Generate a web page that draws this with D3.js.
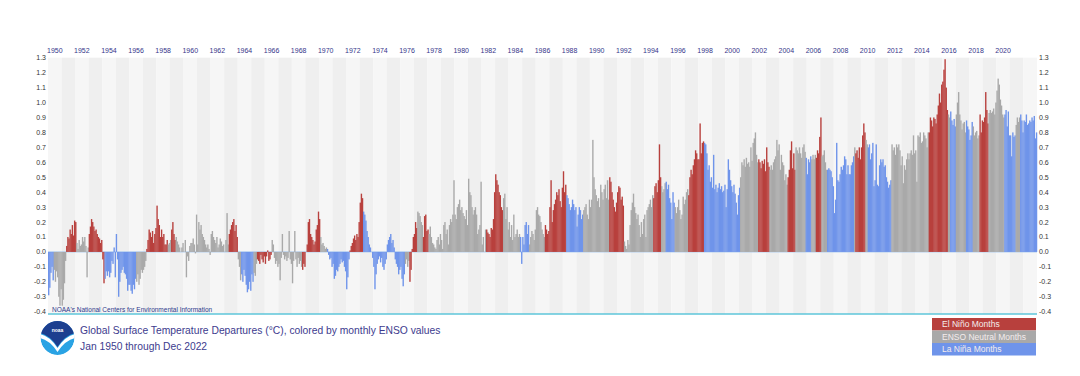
<!DOCTYPE html>
<html>
<head>
<meta charset="utf-8">
<script src="https://cdn.jsdelivr.net/npm/d3@7"></script>
<style>
  body { margin: 0; background: #fff; }
  text { font-family: "Liberation Sans", Arial, sans-serif; }
</style>
</head>
<body>
<div id="chart"></div>
<script>
// first year of the monthly series
var firstYear = 1950;

// top axis labels (every 2nd year)
var yearLabels = ["1950","1952","1954","1956","1958","1960","1962","1964","1966","1968","1970",
  "1972","1974","1976","1978","1980","1982","1984","1986","1988","1990","1992","1994","1996",
  "1998","2000","2002","2004","2006","2008","2010","2012","2014","2016","2018","2020"];

// left / right axis ticks
var yTicks = [-0.4,-0.3,-0.2,-0.1,0.0,0.1,0.2,0.3,0.4,0.5,0.6,0.7,0.8,0.9,1.0,1.1,1.2,1.3];

var legendLabels = ["El Niño Months", "ENSO Neutral Months", "La Niña Months"];
var legendKeys = ["E", "N", "L"];

// monthly anomalies, one row per year (Jan..Dec)
var anomalies = [
  [-0.29,-0.24,-0.14,-0.10,-0.19,-0.12,-0.20,-0.13,-0.17,-0.30,-0.36,-0.25], // 1950
  [-0.36,-0.32,-0.21,-0.06,0.04,0.10,0.09,0.15,0.12,0.18,0.11,0.21],
  [0.20,0.06,0.02,0.08,0.04,0.05,0.10,0.07,0.10,0.04,-0.17,0.03],
  [0.12,0.17,0.22,0.20,0.17,0.14,0.15,0.12,0.10,0.09,0.06,0.08],
  [-0.05,-0.21,-0.18,-0.13,-0.16,-0.13,-0.17,-0.14,-0.06,-0.08,0.03,-0.17],
  [0.12,-0.05,-0.30,-0.20,-0.14,-0.12,-0.10,-0.14,-0.15,-0.18,-0.26,-0.22],
  [-0.22,-0.26,-0.28,-0.22,-0.25,-0.18,-0.20,-0.15,-0.22,-0.18,-0.12,-0.14],
  [-0.12,-0.10,-0.06,0.02,0.08,0.15,0.13,0.10,0.14,0.06,0.12,0.16],
  [0.31,0.22,0.18,0.10,0.15,0.10,0.12,0.05,0.05,0.08,0.05,0.06],
  [0.08,0.15,0.20,0.12,0.08,0.10,0.07,0.05,0.03,0.00,0.03,0.06],
  [0.00,0.08,-0.17,-0.03,-0.06,0.04,0.06,0.06,0.09,0.05,-0.01,0.25], // 1960
  [0.05,0.20,0.15,0.18,0.12,0.10,0.08,0.05,0.03,0.05,0.02,-0.02],
  [0.12,0.14,0.10,0.08,0.06,0.10,0.03,0.05,0.09,0.07,0.04,0.05],
  [0.00,0.08,0.26,0.05,0.12,0.15,0.18,0.20,0.22,0.14,0.18,0.10],
  [-0.05,-0.10,-0.19,-0.15,-0.20,-0.12,-0.16,-0.22,-0.27,-0.25,-0.20,-0.26],
  [-0.15,-0.20,-0.14,-0.16,-0.08,-0.05,-0.06,-0.08,-0.02,-0.05,-0.07,-0.03],
  [-0.08,-0.03,0.01,-0.06,-0.05,-0.02,0.08,0.05,-0.04,-0.08,-0.06,-0.10],
  [-0.08,-0.19,-0.04,0.12,-0.02,-0.05,-0.03,-0.06,-0.04,0.14,-0.05,-0.08],
  [-0.21,-0.06,0.14,-0.05,-0.10,-0.04,-0.08,-0.06,-0.10,-0.12,-0.08,-0.10],
  [0.00,0.05,0.20,0.22,0.12,0.10,0.08,0.05,0.07,0.15,0.18,0.27],
  [0.22,0.10,0.05,0.06,0.04,0.02,0.03,0.02,-0.02,-0.05,-0.04,-0.10], // 1970
  [-0.08,-0.18,-0.16,-0.12,-0.13,-0.10,-0.08,-0.05,-0.07,-0.06,-0.10,-0.13],
  [-0.25,-0.17,-0.05,0.01,0.04,0.06,0.09,0.11,0.08,0.12,0.10,0.20],
  [0.33,0.39,0.36,0.27,0.25,0.21,0.14,0.10,0.05,0.03,0.00,-0.04],
  [-0.10,-0.25,-0.15,-0.08,-0.05,-0.03,-0.07,-0.04,-0.10,-0.12,-0.08,-0.05],
  [0.05,0.08,0.10,0.12,0.06,0.08,0.03,-0.05,-0.08,-0.10,-0.15,-0.12],
  [-0.10,-0.18,-0.23,-0.15,-0.08,-0.05,-0.10,-0.06,-0.20,-0.12,0.02,0.10],
  [0.12,0.20,0.16,0.27,0.26,0.24,0.20,0.18,0.10,0.24,0.25,0.14],
  [0.15,0.12,0.17,0.10,0.06,0.05,0.03,0.02,0.08,0.10,0.05,0.12],
  [0.08,0.02,0.18,0.20,0.12,0.15,0.05,0.18,0.22,0.20,0.25,0.48],
  [0.25,0.22,0.30,0.32,0.35,0.28,0.30,0.26,0.24,0.22,0.28,0.18], // 1980
  [0.49,0.40,0.38,0.30,0.25,0.28,0.30,0.25,0.12,0.15,0.18,0.47],
  [0.05,0.10,0.00,0.15,0.15,0.13,0.12,0.10,0.16,0.15,0.22,0.40],
  [0.52,0.48,0.45,0.40,0.38,0.30,0.28,0.36,0.39,0.22,0.30,0.15],
  [0.20,0.10,0.18,0.08,0.25,0.10,0.12,0.15,0.10,0.12,0.10,-0.08],
  [0.10,0.05,0.18,0.20,0.12,0.18,0.05,0.10,0.14,0.12,0.08,0.15],
  [0.28,0.30,0.25,0.24,0.20,0.15,0.12,0.10,0.18,0.15,0.12,0.14],
  [0.30,0.48,0.20,0.28,0.32,0.35,0.40,0.38,0.42,0.34,0.30,0.43],
  [0.54,0.40,0.45,0.38,0.36,0.32,0.28,0.30,0.35,0.32,0.28,0.30],
  [0.17,0.25,0.30,0.28,0.22,0.25,0.28,0.30,0.32,0.25,0.22,0.35],
  [0.30,0.35,0.75,0.50,0.42,0.38,0.34,0.36,0.30,0.45,0.40,0.35], // 1990
  [0.42,0.45,0.36,0.48,0.35,0.50,0.47,0.40,0.35,0.30,0.27,0.33],
  [0.40,0.44,0.43,0.35,0.37,0.31,0.07,0.04,0.02,0.08,0.05,0.18],
  [0.28,0.33,0.39,0.30,0.26,0.22,0.25,0.18,0.10,0.20,0.12,0.22],
  [0.25,0.10,0.28,0.30,0.32,0.35,0.30,0.38,0.36,0.44,0.46,0.40],
  [0.48,0.72,0.50,0.44,0.40,0.42,0.46,0.47,0.42,0.45,0.36,0.33],
  [0.22,0.40,0.33,0.30,0.26,0.30,0.35,0.28,0.22,0.25,0.37,0.32],
  [0.35,0.40,0.42,0.38,0.50,0.55,0.52,0.58,0.62,0.68,0.66,0.62],
  [0.62,0.86,0.66,0.73,0.74,0.73,0.72,0.66,0.55,0.58,0.47,0.50],
  [0.43,0.65,0.42,0.45,0.40,0.43,0.46,0.42,0.44,0.40,0.41,0.45],
  [0.30,0.42,0.62,0.55,0.48,0.44,0.40,0.45,0.39,0.33,0.25,0.38], // 2000
  [0.43,0.50,0.60,0.58,0.62,0.57,0.63,0.59,0.60,0.57,0.70,0.61],
  [0.73,0.76,0.80,0.65,0.60,0.62,0.60,0.56,0.61,0.59,0.62,0.54],
  [0.70,0.60,0.57,0.55,0.58,0.55,0.60,0.62,0.64,0.75,0.68,0.72],
  [0.55,0.65,0.60,0.58,0.48,0.52,0.45,0.50,0.55,0.68,0.74,0.56],
  [0.66,0.55,0.70,0.68,0.66,0.70,0.66,0.63,0.70,0.72,0.67,0.63],
  [0.52,0.62,0.60,0.64,0.62,0.65,0.62,0.65,0.63,0.68,0.66,0.77],
  [0.90,0.64,0.65,0.68,0.60,0.55,0.55,0.56,0.55,0.54,0.50,0.44],
  [0.26,0.35,0.73,0.48,0.47,0.52,0.57,0.55,0.58,0.64,0.62,0.52],
  [0.58,0.52,0.52,0.58,0.60,0.64,0.70,0.66,0.68,0.63,0.70,0.62],
  [0.70,0.78,0.86,0.80,0.75,0.72,0.70,0.72,0.62,0.66,0.73,0.44], // 2010
  [0.48,0.72,0.45,0.44,0.58,0.62,0.60,0.62,0.57,0.58,0.50,0.47],
  [0.43,0.45,0.48,0.72,0.68,0.70,0.65,0.72,0.70,0.72,0.68,0.58],
  [0.64,0.46,0.58,0.55,0.62,0.66,0.62,0.66,0.68,0.65,0.78,0.66],
  [0.68,0.47,0.78,0.77,0.80,0.73,0.74,0.80,0.78,0.76,0.70,0.80],
  [0.80,0.90,0.88,0.84,0.90,0.89,0.86,0.92,0.98,1.06,1.00,1.12],
  [1.14,1.22,1.29,1.10,0.95,0.92,0.90,0.94,0.88,0.85,0.89,0.84],
  [0.92,1.00,1.07,0.92,0.88,0.82,0.86,0.87,0.80,0.88,0.84,0.82],
  [0.75,0.78,0.87,0.84,0.78,0.80,0.81,0.76,0.78,0.92,0.80,0.88],
  [0.87,0.90,1.07,0.95,0.86,0.93,0.95,0.93,0.94,0.96,0.92,1.00],
  [1.08,1.16,1.12,1.02,0.98,0.92,0.90,0.92,0.95,0.84,0.94,0.78], // 2020
  [0.78,0.64,0.80,0.77,0.78,0.85,0.90,0.87,0.90,0.92,0.88,0.80],
  [0.88,0.87,0.92,0.85,0.86,0.88,0.87,0.90,0.88,0.91,0.76,0.80]
];

// ENSO state per month: E = El Nino, N = neutral, L = La Nina
var enso = [
  "LLLLLNNNNNNN","NNNNEEEEEEEE","ENNNNNNNNNNN","EEEEEEEEEEEE","EELLLLLLLLLL", // 1950-54
  "LLLLLLLLLLLL","LLLLLLNNNNNN","NNNEEEEEEEEE","EEEEEEEEEENN","NEEEENNNNNNN", // 1955-59
  "NNNNNNNNNNNN","NNNNNNNNNNNN","NNNNNNNNNNNN","NNNNEEEEEEEE","NNNLLLLLLLLL", // 1960-64
  "LLNNNEEEEEEE","EEEEEENNNNNN","NNNNNNNNNNNN","NNNNNNNNNEEE","EEEEEEEEEEEE", // 1965-69
  "ENNNNNNLLLLL","LLLLLLLLLLLL","LLLEEEEEEEEE","EEELLLLLLLLL","LLLLLLLLLLLL", // 1970-74
  "LLLLLLLLLLLL","LLLLNNNNEEEE","EEENNNNNEEEE","ENNNNNNNNNNN","NNNNNNNNNNNN", // 1975-79
  "NNNNNNNNNNNN","NNNNNNNNNNNN","NNNNEEEEEEEE","EEEEEEENNNNN","NNNNNNNNNNLL", // 1980-84
  "LLLLLLNNNNNN","NNNNNNNNEEEE","EEEEEEEEEEEE","EEELLLLLLLLL","LLLLLLNNNNNN", // 1985-89
  "NNNNNNNNNNNN","NNNNNEEEEEEE","EEEEEENNNNNN","NNNNNNNNNNNN","NNNNNNNNEEEE", // 1990-94
  "EEENNNNLLLLL","LLLNNNNNNNNN","NNNEEEEEEEEE","EEEEELLLLLLL","LLLLLLLLLLLL", // 1995-99
  "LLLLLLLLLLLL","LNNNNNNNNNNN","NNNNNEEEEEEE","EEENNNNNNNNN","NNNNNNNEEEEE", // 2000-04
  "EENNNNNNNNNL","LLLLNNNNEEEE","ENNNNNLLLLLL","LLLLLLLLLLLL","LLLLLLNEEEEE", // 2005-09
  "EEEENNLLLLLL","LLLLLLLLLLLL","LLLNNNNNNNNN","NNNNNNNNNNNN","NNNNNNNNNNNN", // 2010-14
  "EEEEEEEEEEEE","EEEEENNLLLLL","NNNNNNNNNLLL","LLLNNNNNNEEE","EEEEENNNNNNN", // 2015-19
  "NNNNNNNLLLLL","LLLLLNNNNLLL","LLLLLLLLLLLL"                                  // 2020-22
];

var colors = { E: "#b8403d", N: "#a9a9a9", L: "#6f94ea" };

var W = 1080, H = 376;
var left = 48, right = 1037;

var years = d3.range(firstYear, firstYear + anomalies.length);
var months = [];
anomalies.forEach(function (row, yi) {
  row.forEach(function (v, mi) {
    months.push({ i: yi * 12 + mi, v: v, c: enso[yi].charAt(mi) });
  });
});

var x = d3.scaleBand().domain(d3.range(months.length)).range([left, right]).padding(0);
var xYear = d3.scaleBand().domain(years).range([left, right]).padding(0);
var y = d3.scaleLinear().domain([-0.4, 1.3]).range([311.7, 57.7]);

var svg = d3.select("#chart").append("svg").attr("width", W).attr("height", H);
svg.append("rect").attr("width", W).attr("height", H).attr("fill", "#fff");

// year stripes in the background
svg.append("g").selectAll("rect").data(years).enter().append("rect")
  .attr("x", function (d) { return xYear(d); })
  .attr("width", xYear.bandwidth())
  .attr("y", y(1.3))
  .attr("height", 314 - y(1.3))
  .attr("fill", function (d, i) { return i % 2 ? "#efefef" : "#f6f6f6"; });

// zero line
svg.append("line").attr("x1", left).attr("x2", right).attr("y1", y(0)).attr("y2", y(0))
  .attr("stroke", "#a9c9ef").attr("stroke-width", 1);

// monthly bars
svg.append("g").selectAll("rect").data(months).enter().append("rect")
  .attr("x", function (d) { return x(d.i); })
  .attr("width", x.bandwidth() + 0.25)
  .attr("y", function (d) { return y(Math.max(0, d.v)); })
  .attr("height", function (d) { return Math.abs(y(d.v) - y(0)); })
  .attr("fill", function (d) { return colors[d.c]; });

// bottom line
svg.append("line").attr("x1", left).attr("x2", right).attr("y1", 314).attr("y2", 314)
  .attr("stroke", "#5ec6da").attr("stroke-width", 1.5);

// left and right value labels
function fmt(d) { return d.toFixed(1); }
svg.append("g").selectAll("text").data(yTicks).enter().append("text")
  .attr("x", left - 2).attr("y", y).attr("dy", "0.35em")
  .attr("text-anchor", "end").attr("font-size", 7).attr("fill", "#333")
  .text(fmt);
svg.append("g").selectAll("text").data(yTicks).enter().append("text")
  .attr("x", right + 2).attr("y", y).attr("dy", "0.35em")
  .attr("text-anchor", "start").attr("font-size", 7).attr("fill", "#333")
  .text(fmt);

// year labels along the top
svg.append("g").selectAll("text").data(yearLabels).enter().append("text")
  .attr("x", function (d) { return xYear(+d) + xYear.bandwidth() / 2; })
  .attr("y", 52.5)
  .attr("text-anchor", "middle").attr("font-size", 7).attr("fill", "#36368a")
  .text(function (d) { return d; });

// source credit
svg.append("text").attr("x", 52).attr("y", 311.5).attr("font-size", 6.5).attr("fill", "#2f3b8c")
  .text("NOAA's National Centers for Environmental Information");

// title block
svg.append("text").attr("x", 80).attr("y", 333.5).attr("font-size", 10.3).attr("fill", "#3d3b8e")
  .text("Global Surface Temperature Departures (°C), colored by monthly ENSO values");
svg.append("text").attr("x", 80).attr("y", 349.5).attr("font-size", 10.3).attr("fill", "#3d3b8e")
  .text("Jan 1950 through Dec 2022");

// logo
var logo = svg.append("g").attr("transform", "translate(57.5,338)");
logo.append("clipPath").attr("id", "logoClip").append("circle").attr("r", 17);
var lg = logo.append("g").attr("clip-path", "url(#logoClip)");
lg.append("circle").attr("r", 17).attr("fill", "#2aa3e4");
lg.append("path").attr("d", "M-18,-18 L18,-18 L18,-5 Q8,-3 0,9 Q-8,-3 -18,-5 Z").attr("fill", "#1c3f8f");
lg.append("path").attr("d", "M-18,-4 Q-8,-2 0,10 Q8,-2 18,-4 L18,0 Q8,2 0,14 Q-8,2 -18,0 Z").attr("fill", "#fff");
logo.append("text").attr("y", -6).attr("text-anchor", "middle").attr("font-size", 5)
  .attr("font-weight", "bold").attr("fill", "#fff").text("noaa");

// legend
var lgd = svg.append("g").attr("transform", "translate(932,318)");
lgd.selectAll("rect").data(legendKeys).enter().append("rect")
  .attr("x", 0).attr("y", function (d, i) { return i * 12.5; })
  .attr("width", 104).attr("height", 12.5)
  .attr("fill", function (d) { return colors[d]; });
lgd.selectAll("text").data(legendLabels).enter().append("text")
  .attr("x", 10).attr("y", function (d, i) { return i * 12.5 + 9.3; })
  .attr("font-size", 8.5).attr("fill", "#f4ecec")
  .text(function (d) { return d; });
</script>
</body>
</html>
